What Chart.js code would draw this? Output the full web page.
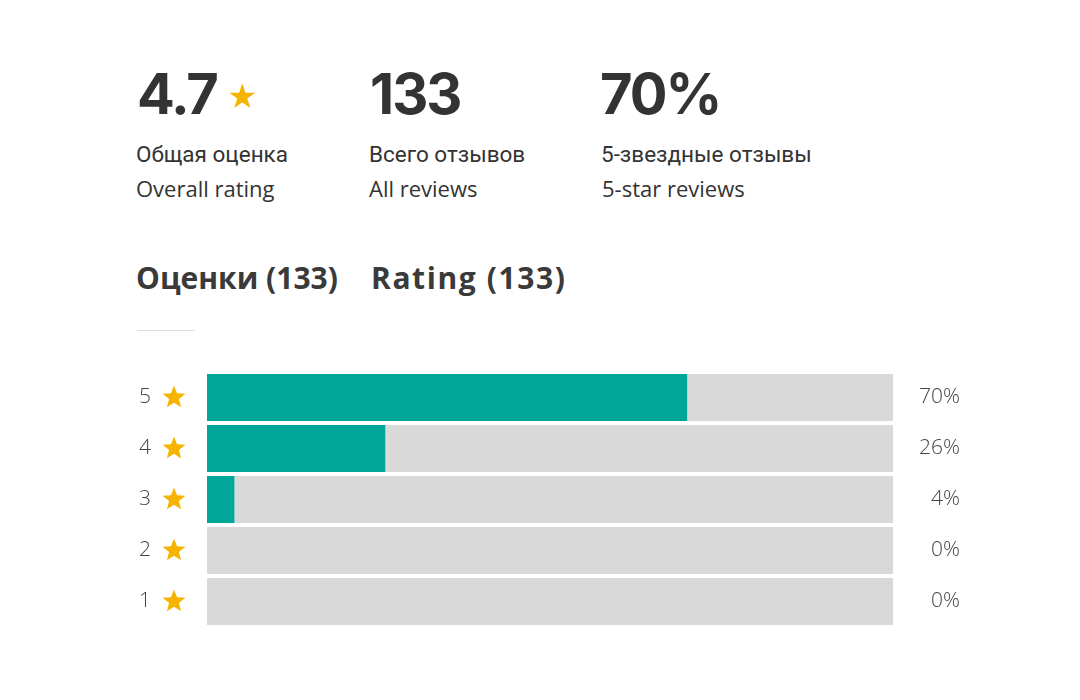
<!DOCTYPE html>
<html>
<head>
<meta charset="utf-8">
<script src="https://cdn.jsdelivr.net/npm/chart.js@4"></script>
<style>
    body { margin: 0; width: 1080px; height: 700px; background: #fff; position: relative; overflow: hidden; }
    .big { position: absolute; top: 66px; font-family: Inter, sans-serif; font-weight: 700; font-size: 56px; line-height: 1; color: #333; letter-spacing: -2px; }
    .sub { position: absolute; font-family: "Open Sans", sans-serif; font-size: 22px; line-height: 1; color: #333; }
    .ru { font-family: Roboto, sans-serif; font-size: 22.5px; }
    .head { position: absolute; top: 260px; font-family: "Open Sans", sans-serif; font-weight: 700; font-size: 30px; line-height: 1.2; color: #3a3a3a; }
    .star { color: #f5b400; font-size: 30px; letter-spacing: 0; margin-left: 10px; vertical-align: 6px; }
    #rule { position: absolute; left: 137px; top: 330px; width: 58px; height: 1px; background: #ddd; }
    #wrap { position: absolute; left: 100px; top: 372px; width: 860px; height: 255px; }
</style>
</head>
<body>
<div class="big" style="left:137px">4.7<span class="star">★</span></div>
<div class="big" style="left:370px">133</div>
<div class="big" style="left:600px">70%</div>
<div class="sub ru" style="left:136px; top:143px">Общая оценка</div>
<div class="sub" style="left:136px; top:177px">Overall rating</div>
<div class="sub ru" style="left:369px; top:143px">Всего отзывов</div>
<div class="sub" style="left:369px; top:177px">All reviews</div>
<div class="sub ru" style="left:601px; top:143px">5-звездные отзывы</div>
<div class="sub" style="left:602px; top:177px">5-star reviews</div>
<div class="head" style="left:136px">Оценки (133)</div>
<div class="head" style="left:371px; letter-spacing:1.6px">Rating (133)</div>
<div id="rule"></div>
<div id="wrap"><canvas id="ratingChart"></canvas></div>

<script>
// ===== Data =====
const starLabels = ['5', '4', '3', '2', '1'];
const shares = [70, 26, 4, 0, 0];
const shareLabels = ['70%', '26%', '4%', '0%', '0%'];

const TEAL = '#00a698';
const GREY = '#d9d9d9';
const STAR = '#f5b400';

// draws a yellow star next to every rating number on the left axis
const starPlugin = {
    id: 'starTicks',
    afterDraw(chart) {
        const scale = chart.scales.y;
        const ctx = chart.ctx;
        ctx.save();
        ctx.fillStyle = STAR;
        scale.ticks.forEach((t, i) => {
            const cx = chart.chartArea.left - 33;
            const cy = scale.getPixelForTick(i);
            const outer = 12, inner = 5.2;
            ctx.beginPath();
            for (let k = 0; k < 10; k++) {
                const r = k % 2 === 0 ? outer : inner;
                const a = -Math.PI / 2 + k * Math.PI / 5;
                const px = cx + r * Math.cos(a);
                const py = cy + r * Math.sin(a);
                if (k === 0) ctx.moveTo(px, py); else ctx.lineTo(px, py);
            }
            ctx.closePath();
            ctx.fill();
        });
        ctx.restore();
    }
};

// fixed side widths, no extra vertical padding from the tick labels
const fixSide = w => s => {
    s.width = w;
    s.paddingTop = 0;
    s.paddingBottom = 0;
};

const tickFont = { family: '"Open Sans", sans-serif', size: 21, weight: 300 };

new Chart(document.getElementById('ratingChart'), {
    type: 'bar',
    data: {
        labels: starLabels,
        datasets: [
            {
                data: shares,
                backgroundColor: TEAL,
                barPercentage: 1,
                categoryPercentage: 0.92
            },
            {
                data: shares.map(v => 100 - v),
                backgroundColor: GREY,
                barPercentage: 1,
                categoryPercentage: 0.92
            }
        ]
    },
    options: {
        indexAxis: 'y',
        responsive: true,
        maintainAspectRatio: false,
        animation: false,
        layout: { padding: 0 },
        plugins: {
            legend: { display: false },
            tooltip: { enabled: false }
        },
        scales: {
            x: { stacked: true, min: 0, max: 100, display: false },
            y: {
                stacked: true,
                position: 'left',
                grid: { display: false, drawTicks: false },
                border: { display: false },
                ticks: { color: '#444', font: tickFont, padding: 56, autoSkip: false },
                afterFit: fixSide(107)
            },
            y2: {
                type: 'category',
                labels: shareLabels,
                position: 'right',
                offset: true,
                grid: { display: false, drawTicks: false },
                border: { display: false },
                ticks: { color: '#444', font: tickFont, padding: 21, crossAlign: 'far', autoSkip: false },
                afterFit: fixSide(67)
            }
        }
    },
    plugins: [starPlugin]
});
</script>
</body>
</html>
